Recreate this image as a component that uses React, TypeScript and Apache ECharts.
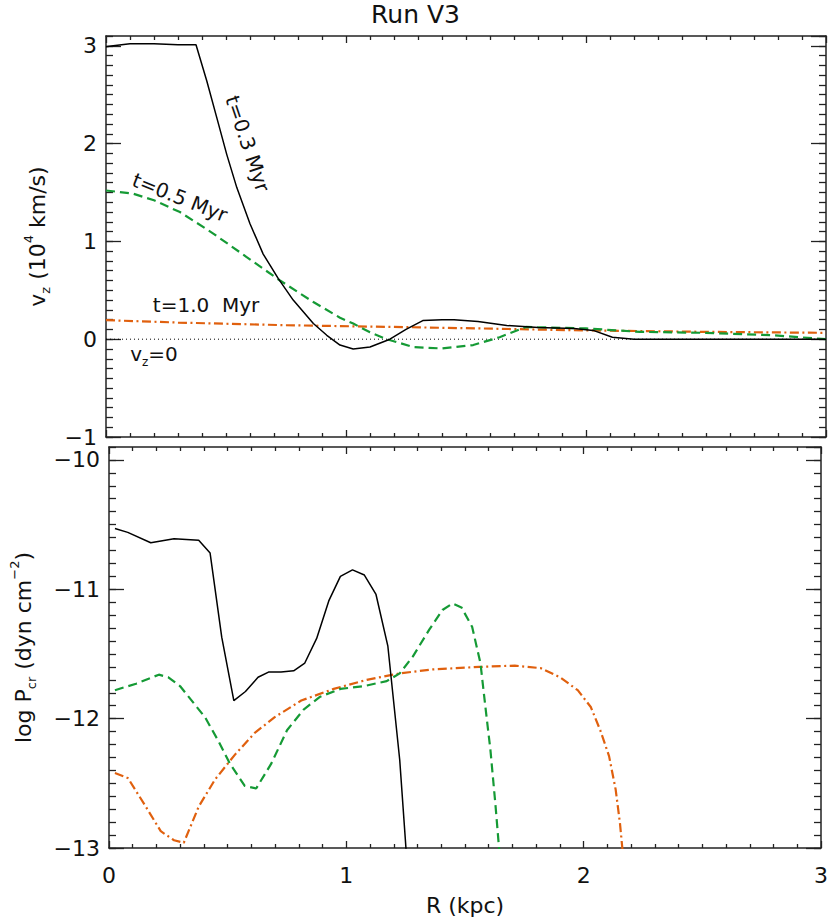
import React, { useEffect, useRef } from 'react';
import * as echarts from 'echarts';

// ---------- Top panel: v_z (10^4 km/s) vs R (kpc) ----------
const vzBlackR = [0, 0.03, 0.1, 0.2, 0.3, 0.375, 0.42, 0.461, 0.503, 0.545, 0.6, 0.655, 0.718, 0.78, 0.864, 0.92, 0.975, 1.03, 1.1, 1.183, 1.25, 1.32, 1.4, 1.45, 1.55, 1.67, 1.8, 1.95, 2.03, 2.11, 2.2, 3.0];
const vzBlackV = [2.99, 3.0, 3.02, 3.02, 3.01, 3.01, 2.64, 2.27, 1.89, 1.55, 1.18, 0.87, 0.62, 0.4, 0.16, 0.04, -0.06, -0.1, -0.08, 0.0, 0.1, 0.19, 0.2, 0.2, 0.18, 0.14, 0.12, 0.11, 0.09, 0.02, 0.0, 0.0];

const vzGreenR = [0, 0.11, 0.2, 0.308, 0.378, 0.447, 0.586, 0.725, 0.864, 0.975, 1.03, 1.1, 1.17, 1.28, 1.4, 1.53, 1.64, 1.75, 2.0, 2.225, 2.5, 2.78, 3.0];
const vzGreenV = [1.52, 1.49, 1.42, 1.3, 1.19, 1.08, 0.84, 0.6, 0.38, 0.22, 0.16, 0.07, 0.0, -0.08, -0.095, -0.06, 0.02, 0.125, 0.11, 0.075, 0.065, 0.04, 0.0];

const vzOrangeR = [0, 0.3, 0.75, 1.2, 1.56, 1.94, 2.5, 3.0];
const vzOrangeV = [0.195, 0.17, 0.143, 0.125, 0.11, 0.092, 0.075, 0.065];

const zeroLineR = [0, 3];
const zeroLineV = [0, 0];

// ---------- Bottom panel: log P_cr vs R ----------
const pBlackR = [0.025, 0.079, 0.176, 0.274, 0.378, 0.426, 0.475, 0.526, 0.575, 0.628, 0.672, 0.725, 0.778, 0.825, 0.875, 0.926, 0.975, 1.026, 1.076, 1.125, 1.175, 1.225, 1.255];
const pBlackV = [-10.53, -10.56, -10.64, -10.61, -10.62, -10.72, -11.37, -11.86, -11.79, -11.68, -11.64, -11.64, -11.63, -11.57, -11.38, -11.09, -10.9, -10.85, -10.89, -11.04, -11.44, -12.32, -13.1];

const pGreenR = [0.025, 0.114, 0.21, 0.25, 0.3, 0.405, 0.46, 0.51, 0.572, 0.62, 0.683, 0.75, 0.82, 0.89, 0.975, 1.07, 1.17, 1.225, 1.28, 1.35, 1.405, 1.447, 1.485, 1.53, 1.565, 1.586, 1.607, 1.628, 1.648];
const pGreenV = [-11.78, -11.73, -11.66, -11.68, -11.75, -11.99, -12.17, -12.35, -12.52, -12.54, -12.35, -12.09, -11.93, -11.83, -11.77, -11.75, -11.71, -11.65, -11.52, -11.31, -11.16, -11.11, -11.14, -11.29, -11.57, -11.91, -12.24, -12.66, -13.1];

const pOrangeR = [0.025, 0.08, 0.155, 0.218, 0.274, 0.315, 0.378, 0.447, 0.53, 0.614, 0.697, 0.81, 0.947, 1.086, 1.225, 1.36, 1.56, 1.71, 1.82, 1.9, 1.975, 2.03, 2.07, 2.107, 2.135, 2.153, 2.168];
const pOrangeV = [-12.42, -12.46, -12.68, -12.87, -12.94, -12.96, -12.68, -12.47, -12.28, -12.11, -11.99, -11.86, -11.77, -11.7, -11.65, -11.62, -11.6, -11.59, -11.61, -11.68, -11.78, -11.91, -12.09, -12.29, -12.55, -12.81, -13.1];

// axis ranges / ticks
const xMin = 0, xMax = 3;
const vzMin = -1, vzMax = 3.1;
const pMin = -13, pMax = -9.9;

// in-plot labels: [text, R, value, rotation(deg)]
const topLabels: [string, number, number, number][] = [
  ['t=0.3 Myr', 0.59, 2.0, -71.5],
  ['t=0.5 Myr', 0.308, 1.45, -21.5],
  ['t=1.0  Myr', 0.417, 0.35, 0],
  ['v{sub|z}=0', 0.2, -0.15, 0],
];

const FONT = 'DejaVu Sans';
const INK = '#111';
const GREEN = '#159a35';
const ORANGE = '#e0600e';

const pairs = (r: number[], v: number[]) => r.map((x, i) => [x, v[i]]);

export default function App() {
  const ref = useRef<HTMLDivElement>(null);
  useEffect(() => {
    const chart = echarts.init(ref.current!, null, { renderer: 'svg' });
    const axisLine = { show: true, onZero: false, lineStyle: { color: '#222', width: 1.5 } };
    const tickStyle = { color: '#222', width: 1.3 };
    const richNS = {
      sub: { fontSize: 13, lineHeight: 13, verticalAlign: 'bottom' as const, fontFamily: FONT, color: INK },
      sup: { fontSize: 13, lineHeight: 13, verticalAlign: 'top' as const, fontFamily: FONT, color: INK },
    };

    const mkX = (grid: number, pos: 'top' | 'bottom', labels: boolean) => ({
      type: 'value', gridIndex: grid, position: pos, min: xMin, max: xMax, interval: 1,
      axisLine, splitLine: { show: false },
      axisTick: { show: true, inside: true, length: 7, lineStyle: tickStyle },
      minorTick: { show: true, splitNumber: 10, length: 4, lineStyle: tickStyle },
      axisLabel: labels
        ? { show: true, margin: 16, fontSize: 22, fontFamily: FONT, color: INK }
        : { show: false },
      ...(labels && grid === 1
        ? { name: 'R (kpc)', nameLocation: 'middle', nameGap: 46, nameTextStyle: { fontSize: 22, fontFamily: FONT, color: INK } }
        : {}),
    });

    const intLabel = (v: number) =>
      Math.abs(v - Math.round(v)) < 1e-6 ? (v < 0 ? '\u2212' + Math.abs(Math.round(v)) : String(Math.round(v))) : '';

    const mkY = (grid: number, pos: 'left' | 'right', major: boolean, min: number, max: number, extra: any = {}) => ({
      type: 'value', gridIndex: grid, position: pos, min, max, interval: major ? 1 : 0.1,
      axisLine: { ...axisLine, show: major },
      splitLine: { show: false },
      axisTick: { show: true, inside: true, length: major ? 15 : 7, lineStyle: tickStyle },
      axisLabel: major && pos === 'left'
        ? { show: true, margin: 9, fontSize: 22, fontFamily: FONT, color: INK, formatter: intLabel, showMaxLabel: false }
        : { show: false },
      ...extra,
    });

    const option: any = {
      animation: false,
      backgroundColor: '#fff',
      title: {
        text: 'Run V3', left: 'center', top: -3,
        textStyle: { fontSize: 25, fontWeight: 'normal', fontFamily: FONT, color: INK },
      },
      grid: [
        { left: 106, top: 36, right: 5, height: 401 },
        { left: 106, top: 447, right: 5, height: 401 },
      ],
      xAxis: [
        mkX(0, 'bottom', false),
        mkX(0, 'top', false),
        mkX(1, 'bottom', true),
        mkX(1, 'top', false),
      ],
      yAxis: [
        mkY(0, 'left', true, vzMin, vzMax, {
          name: 'v{sub|z} (10{sup|4} km/s)', nameLocation: 'middle', nameGap: 54,
          nameTextStyle: { fontSize: 22, lineHeight: 30, fontFamily: FONT, color: INK, rich: richNS },
        }),
        mkY(0, 'left', false, vzMin, vzMax),
        mkY(0, 'right', true, vzMin, vzMax),
        mkY(0, 'right', false, vzMin, vzMax),
        mkY(1, 'left', true, pMin, pMax, {
          name: 'log P{sub|cr} (dyn cm{sup|\u22122})', nameLocation: 'middle', nameGap: 71,
          nameTextStyle: { fontSize: 22, lineHeight: 30, fontFamily: FONT, color: INK, rich: richNS },
        }),
        mkY(1, 'left', false, pMin, pMax),
        mkY(1, 'right', true, pMin, pMax),
        mkY(1, 'right', false, pMin, pMax),
      ],
      series: [
        {
          type: 'line', xAxisIndex: 0, yAxisIndex: 0, data: pairs(zeroLineR, zeroLineV), showSymbol: false,
          lineStyle: { color: '#000', width: 1, type: [1, 3] }, z: 1,
        },
        {
          type: 'line', xAxisIndex: 0, yAxisIndex: 0, data: pairs(vzOrangeR, vzOrangeV), showSymbol: false,
          lineStyle: { color: ORANGE, width: 2.2, type: [9, 3.5, 2, 3.5] }, z: 2,
        },
        {
          type: 'line', xAxisIndex: 0, yAxisIndex: 0, data: pairs(vzGreenR, vzGreenV), showSymbol: false,
          lineStyle: { color: GREEN, width: 2.2, type: [9, 5] }, z: 3,
        },
        {
          type: 'line', xAxisIndex: 0, yAxisIndex: 0, data: pairs(vzBlackR, vzBlackV), showSymbol: false,
          lineStyle: { color: '#000', width: 1.5 }, z: 4,
        },
        {
          type: 'line', xAxisIndex: 2, yAxisIndex: 4, data: pairs(pOrangeR, pOrangeV), showSymbol: false, clip: true,
          lineStyle: { color: ORANGE, width: 2.2, type: [9, 3.5, 2, 3.5] }, z: 2,
        },
        {
          type: 'line', xAxisIndex: 2, yAxisIndex: 4, data: pairs(pGreenR, pGreenV), showSymbol: false, clip: true,
          lineStyle: { color: GREEN, width: 2.2, type: [9, 5] }, z: 3,
        },
        {
          type: 'line', xAxisIndex: 2, yAxisIndex: 4, data: pairs(pBlackR, pBlackV), showSymbol: false, clip: true,
          lineStyle: { color: '#000', width: 1.5 }, z: 4,
        },
      ],
    };
    chart.setOption(option);

    const graphics = topLabels.map(([text, r, v, rot]) => {
      const p = chart.convertToPixel({ seriesIndex: 3 }, [r, v]) as number[];
      return {
        type: 'text', x: p[0], y: p[1], rotation: (rot * Math.PI) / 180, z: 10,
        style: {
          text, fontSize: 20, fontFamily: FONT, fill: INK, align: 'center', verticalAlign: 'middle',
          rich: {
            sub: { fontSize: 12, lineHeight: 12, verticalAlign: 'bottom', fontFamily: FONT, fill: INK },
          },
          lineHeight: 28,
        },
      };
    });
    chart.setOption({ graphic: graphics });

    return () => chart.dispose();
  }, []);
  return <div ref={ref} style={{ position: 'absolute', left: 0, top: 0, width: 831, height: 922 }} />;
}
